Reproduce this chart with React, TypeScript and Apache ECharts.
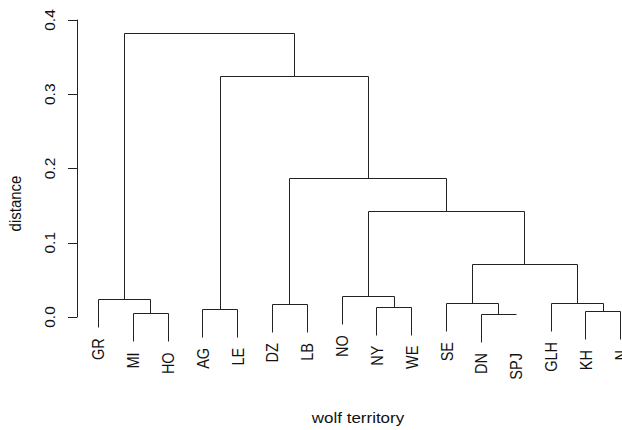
import React, { useEffect, useRef } from "react";
import * as echarts from "echarts";

// Leaves in plotting order (left to right)
const leafLabels = ["GR", "MI", "HO", "AG", "LE", "DZ", "LB", "NO", "NY", "WE", "SE", "DN", "SPJ", "GLH", "KH", "N"];
// R-style merge matrix: negative = leaf number (1-based), positive = earlier merge (1-based)
const mergeLeft = [-12, -2, -15, -4, -9, -6, -11, -14, -1, -8, 7, 10, 6, 4, 9];
const mergeRight = [-13, -3, -16, -5, -10, -7, 1, 3, 2, 5, 8, 11, 12, 13, 14];
const mergeHeights = [0.004, 0.005, 0.008, 0.011, 0.014, 0.0175, 0.019, 0.019, 0.024, 0.028, 0.0715, 0.143, 0.187, 0.325, 0.382];
const yTicks = [0, 0.1, 0.2, 0.3, 0.4];
const leavesWithoutStem = ["SPJ"];
const hangFraction = 0.1;

const FONT = '"Liberation Sans", Arial, Helvetica, sans-serif';
const INK = "#111111";
const LINE = "#222222";

function buildTree() {
  const hMax = Math.max(...mergeHeights);
  const hMin = Math.min(...mergeHeights);
  const hang = hangFraction * (hMax - hMin);
  const nodeX: number[] = [];
  const branches: number[][] = [];
  const leafEnds: number[][] = leafLabels.map((_, i) => [i + 1, 0]);
  const cx = (c: number) => (c < 0 ? -c : nodeX[c - 1]);
  mergeHeights.forEach((h, k) => {
    const l = mergeLeft[k];
    const r = mergeRight[k];
    const childY = (c: number) => {
      if (c < 0) {
        const end = h - hang;
        leafEnds[-c - 1][1] = end;
        return leavesWithoutStem.includes(leafLabels[-c - 1]) ? h : end;
      }
      return mergeHeights[c - 1];
    };
    const xl = cx(l);
    const xr = cx(r);
    const yl = childY(l);
    const yr = childY(r);
    nodeX.push((xl + xr) / 2);
    branches.push([xl, yl, xr, yr, h]);
  });
  return { branches, leafEnds };
}

export default function App() {
  const ref = useRef<HTMLDivElement>(null);
  useEffect(() => {
    if (!ref.current) return;
    const chart = echarts.init(ref.current, undefined, { renderer: "svg" });
    const { branches, leafEnds } = buildTree();
    const snap = (v: number) => Math.round(v) + 0.5;
    chart.setOption({
      animation: false,
      backgroundColor: "#ffffff",
      grid: { left: 77, top: 20, right: 0, height: 297, containLabel: false },
      xAxis: { type: "value", min: 0.4, max: 16.05, show: false },
      yAxis: {
        type: "value",
        min: yTicks[0],
        max: yTicks[yTicks.length - 1],
        interval: 0.1,
        splitLine: { show: false },
        axisLine: { show: true, lineStyle: { color: LINE, width: 1 } },
        axisTick: { show: true, length: 9, lineStyle: { color: LINE, width: 1 } },
        axisLabel: {
          rotate: 90,
          margin: 20,
          fontSize: 15.5,
          fontFamily: FONT,
          color: INK,
          formatter: (v: number) => v.toFixed(1),
        },
      },
      series: [
        {
          type: "custom",
          clip: false,
          data: branches,
          encode: { x: [0, 2], y: [1, 3, 4] },
          renderItem: (params: any, api: any) => {
            const xl = api.value(0), yl = api.value(1), xr = api.value(2), yr = api.value(3), h = api.value(4);
            const a = api.coord([xl, yl]);
            const b = api.coord([xl, h]);
            const c = api.coord([xr, h]);
            const d = api.coord([xr, yr]);
            const pts = [a, b, c, d].map((p: number[]) => [snap(p[0]), snap(p[1])]);
            return {
              type: "polyline",
              shape: { points: pts },
              style: { stroke: LINE, lineWidth: 1, fill: "none" },
              silent: true,
            };
          },
        },
        {
          type: "custom",
          clip: false,
          data: leafEnds,
          encode: { x: 0, y: 1 },
          renderItem: (params: any, api: any) => {
            const p = api.coord([api.value(0), api.value(1)]);
            return {
              type: "text",
              x: p[0] + 0.5,
              y: p[1] + 11,
              rotation: Math.PI / 2,
              scaleY: 1.15,
              style: {
                text: leafLabels[params.dataIndex],
                align: "right",
                verticalAlign: "middle",
                fontSize: 14.5,
                fontFamily: FONT,
                fill: INK,
              },
              silent: true,
            };
          },
        },
      ],
      graphic: [
        {
          type: "text",
          x: 15,
          y: 203.5,
          rotation: Math.PI / 2,
          scaleY: 1.15,
          style: {
            text: "distance",
            align: "center",
            verticalAlign: "middle",
            fontSize: 15,
            fontFamily: FONT,
            fill: INK,
          },
        },
        {
          type: "text",
          x: 358,
          y: 418,
          scaleX: 1.17,
          style: {
            text: "wolf territory",
            align: "center",
            verticalAlign: "middle",
            fontSize: 14.5,
            fontFamily: FONT,
            fill: INK,
          },
        },
      ],
    });
    return () => chart.dispose();
  }, []);
  return (
    <div
      ref={ref}
      style={{ position: "fixed", left: 0, top: 0, width: 622, height: 430, background: "#fff" }}
    />
  );
}
